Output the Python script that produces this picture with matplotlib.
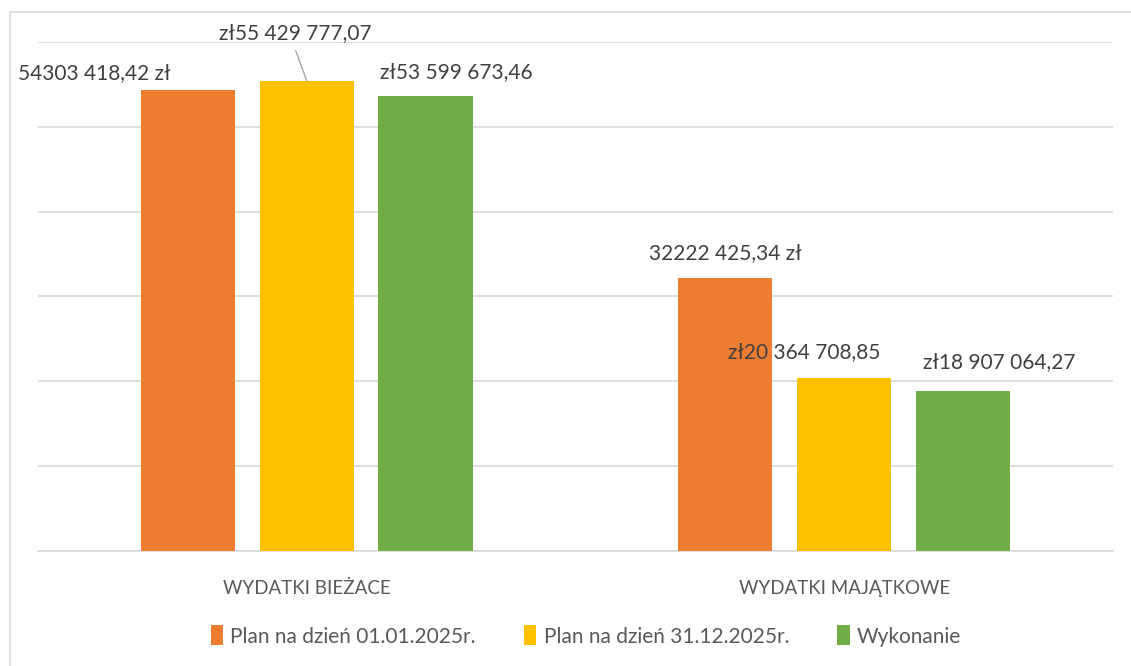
import numpy as np
import matplotlib.pyplot as plt
from matplotlib.patches import Rectangle

# Data
categories = ["WYDATKI BIEŻACE", "WYDATKI MAJĄTKOWE"]
series_names = ["Plan na dzień 01.01.2025r.", "Plan na dzień 31.12.2025r.", "Wykonanie"]
plan_start = [54303418.42, 32222425.34]
plan_end = [55429777.07, 20364708.85]
wykonanie = [53599673.46, 18907064.27]
label_start = ["54303 418,42 zł", "32222 425,34 zł"]
label_end = ["zł55 429 777,07", "zł20 364 708,85"]
label_wyk = ["zł53 599 673,46", "zł18 907 064,27"]

colors = ["#ED7D31", "#FFC000", "#70AD47"]
text_color = "#404040"
plt.rcParams['font.family'] = ['Lato', 'DejaVu Sans']

fig = plt.figure(figsize=(11.31, 6.66), dpi=100)
ax = fig.add_axes([0.0336, 0.1727, 0.9504, 0.7643])

x = np.arange(len(categories))
width = 0.175
offset = 0.221
values = [plan_start, plan_end, wykonanie]
bars = []
for i, (vals, col, name) in enumerate(zip(values, colors, series_names)):
    b = ax.bar(x + (i - 1) * offset, vals, width, color=col, label=name, zorder=3)
    bars.append(b)

ax.set_xlim(-0.5, 1.5)
ax.set_ylim(0, 60000000)
ax.set_yticks(np.arange(0, 60000001, 10000000))
ax.set_yticklabels([])
ax.tick_params(axis='y', length=0)
ax.grid(axis='y', color="#d9d9d9", linewidth=1.2, zorder=0)
ax.set_xticks(x)
ax.set_xticklabels(categories, fontsize=13.5, color="#595959")
ax.tick_params(axis='x', length=0, pad=21)
for s in ["top", "right", "left"]:
    ax.spines[s].set_visible(False)
ax.spines["bottom"].set_color("#d9d9d9")
ax.spines["bottom"].set_linewidth(1.2)

# data labels (offsets in pixels from bar top, label centre)
fs = 15
lab_offsets = [
    [(-94, 17), (0, 25)],     # plan start
    [(-11, 48), (-40, 26)],   # plan end
    [(31, 24), (36, 28)],     # wykonanie
]
labels = [label_start, label_end, label_wyk]
for i, b in enumerate(bars):
    for j, rect in enumerate(b):
        cx = rect.get_x() + rect.get_width() / 2
        h = rect.get_height()
        dx, dy = lab_offsets[i][j]
        ax.annotate(labels[i][j], xy=(cx, h), xytext=(dx, dy),
                    textcoords="offset pixels", ha="center", va="center",
                    fontsize=fs, color=text_color, zorder=5)

# leader line for the yellow label of first group
r = bars[1][0]
cx = r.get_x() + r.get_width() / 2
ax.annotate("", xy=(cx, r.get_height()), xytext=(-11, 30),
            textcoords="offset pixels",
            arrowprops=dict(arrowstyle="-", color="#a6a6a6", lw=1,
                            shrinkA=0, shrinkB=0))

leg = fig.legend(loc="center", bbox_to_anchor=(0.518, 0.045), ncol=3, frameon=False,
                 fontsize=15, handlelength=0.6, handleheight=1.1,
                 columnspacing=2.3, handletextpad=0.35)
for t in leg.get_texts():
    t.set_color("#595959")

# chart border
fig.patches.append(Rectangle((10 / 1131, -0.01), 1.1, 1 - 12 / 666 + 0.01,
                             transform=fig.transFigure, fill=False,
                             edgecolor="#d9d9d9", linewidth=1.2))

fig.savefig("out.png", dpi=100)
